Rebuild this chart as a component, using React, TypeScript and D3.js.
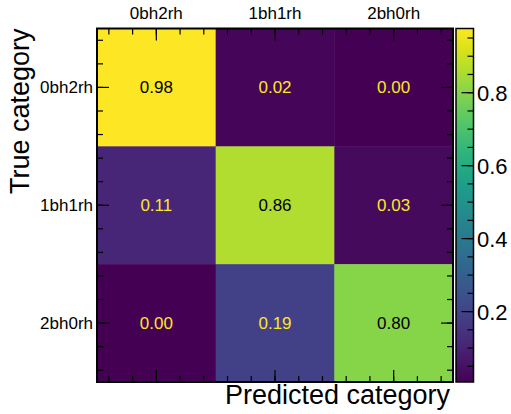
import React from "react";
import * as d3 from "d3";

const categories = ["0bh2rh", "1bh1rh", "2bh0rh"];
const matrixRow0 = [0.98, 0.02, 0.0];
const matrixRow1 = [0.11, 0.86, 0.03];
const matrixRow2 = [0.0, 0.19, 0.8];
const colorTicks = [0.2, 0.4, 0.6, 0.8];
const colorDomain = [0.007, 0.976];

const W = 511;
const H = 414;
const M = { left: 97, top: 28.5, right: 453, bottom: 382 };
const CB = { x0: 456, x1: 473.5 };
const FONT = "'Liberation Sans', Arial, Helvetica, sans-serif";

export default function App() {
  const rows = [matrixRow0, matrixRow1, matrixRow2];
  const x = d3.scaleLinear().domain([-0.5, categories.length - 0.5]).range([M.left, M.right]);
  const y = d3.scaleLinear().domain([-0.5, categories.length - 0.5]).range([M.top, M.bottom]);
  const color = d3.scaleSequential(d3.interpolateViridis).domain(colorDomain).clamp(true);
  const cy = d3.scaleLinear().domain(colorDomain).range([M.bottom, M.top]);
  const thresh = (colorDomain[0] + colorDomain[1]) / 2;

  const minorPos = d3.range(-0.4, categories.length - 0.5 + 1e-9, 0.2).map((v) => Math.round(v * 10) / 10);
  const majorPos = categories.map((_, i) => i);
  const MAJ = 12;
  const MIN = 6;

  const cbMinor = d3.range(0.05, colorDomain[1], 0.05).filter((v) => v > colorDomain[0]);
  const cbStops = d3.range(0, 1.0001, 0.05).map((t) => {
    const v = colorDomain[0] + t * (colorDomain[1] - colorDomain[0]);
    return { off: `${t * 100}%`, c: color(v) };
  });

  return (
    <svg width={W} height={H} style={{ position: "absolute", left: 0, top: 0 }} fontFamily={FONT}>
      <defs>
        <linearGradient id="cbgrad" x1="0" y1="1" x2="0" y2="0">
          {cbStops.map((s, i) => (
            <stop key={i} offset={s.off} stopColor={s.c} />
          ))}
        </linearGradient>
      </defs>
      <rect width={W} height={H} fill="#fff" />
      {/* cells */}
      {rows.map((row, ri) =>
        row.map((v, ci) => (
          <g key={`${ri}-${ci}`}>
            <rect
              x={x(ci - 0.5)}
              y={y(ri - 0.5)}
              width={x(ci + 0.5) - x(ci - 0.5) + 0.5}
              height={y(ri + 0.5) - y(ri - 0.5) + 0.5}
              fill={color(v)}
            />
            <text
              x={x(ci)}
              y={y(ri)}
              dy="0.35em"
              textAnchor="middle"
              fontSize={17}
              fill={v >= thresh ? "#000" : "#fde725"}
            >
              {v.toFixed(2)}
            </text>
          </g>
        ))
      )}
      {/* ticks */}
      <g stroke="#000" strokeWidth={1.2}>
        {minorPos.map((p) => (
          <g key={`mn${p}`}>
            <line x1={x(p)} x2={x(p)} y1={M.top} y2={M.top + MIN} />
            <line x1={x(p)} x2={x(p)} y1={M.bottom} y2={M.bottom - MIN} />
            <line y1={y(p)} y2={y(p)} x1={M.left} x2={M.left + MIN} />
            <line y1={y(p)} y2={y(p)} x1={M.right} x2={M.right - MIN} />
          </g>
        ))}
        {majorPos.map((p) => (
          <g key={`mj${p}`}>
            <line x1={x(p)} x2={x(p)} y1={M.top} y2={M.top + MAJ} />
            <line x1={x(p)} x2={x(p)} y1={M.bottom} y2={M.bottom - MAJ} />
            <line y1={y(p)} y2={y(p)} x1={M.left} x2={M.left + MAJ} />
            <line y1={y(p)} y2={y(p)} x1={M.right} x2={M.right - MAJ} />
          </g>
        ))}
      </g>
      <rect
        x={M.left}
        y={M.top}
        width={M.right - M.left}
        height={M.bottom - M.top}
        fill="none"
        stroke="#000"
        strokeWidth={2}
      />
      {/* tick labels */}
      {categories.map((c, i) => (
        <text key={`xt${c}`} x={x(i)} y={19} textAnchor="middle" fontSize={17} fill="#000">
          {c}
        </text>
      ))}
      {categories.map((c, i) => (
        <text key={`yt${c}`} x={93} y={y(i)} dy="0.35em" textAnchor="end" fontSize={17} fill="#000">
          {c}
        </text>
      ))}
      {/* axis labels */}
      <text x={450} y={404} textAnchor="end" fontSize={27} fill="#000">
        Predicted category
      </text>
      <text
        transform={`translate(29,${M.top}) rotate(-90)`}
        textAnchor="end"
        fontSize={27}
        fill="#000"
      >
        True category
      </text>
      {/* colorbar */}
      <rect x={CB.x0} y={M.top} width={CB.x1 - CB.x0} height={M.bottom - M.top} fill="url(#cbgrad)" />
      <g stroke="#000" strokeWidth={1.2}>
        {cbMinor.map((v) => (
          <line key={`cm${v}`} x1={CB.x1} x2={CB.x1 - MIN} y1={cy(v)} y2={cy(v)} />
        ))}
        {colorTicks.map((v) => (
          <line key={`cM${v}`} x1={CB.x1} x2={CB.x1 - MAJ} y1={cy(v)} y2={cy(v)} />
        ))}
      </g>
      <rect
        x={CB.x0}
        y={M.top}
        width={CB.x1 - CB.x0}
        height={M.bottom - M.top}
        fill="none"
        stroke="#000"
        strokeWidth={1.5}
      />
      {colorTicks.map((v) => (
        <text key={`cl${v}`} x={477} y={cy(v)} dy="0.36em" fontSize={22} fill="#000">
          {v.toFixed(1)}
        </text>
      ))}
    </svg>
  );
}
